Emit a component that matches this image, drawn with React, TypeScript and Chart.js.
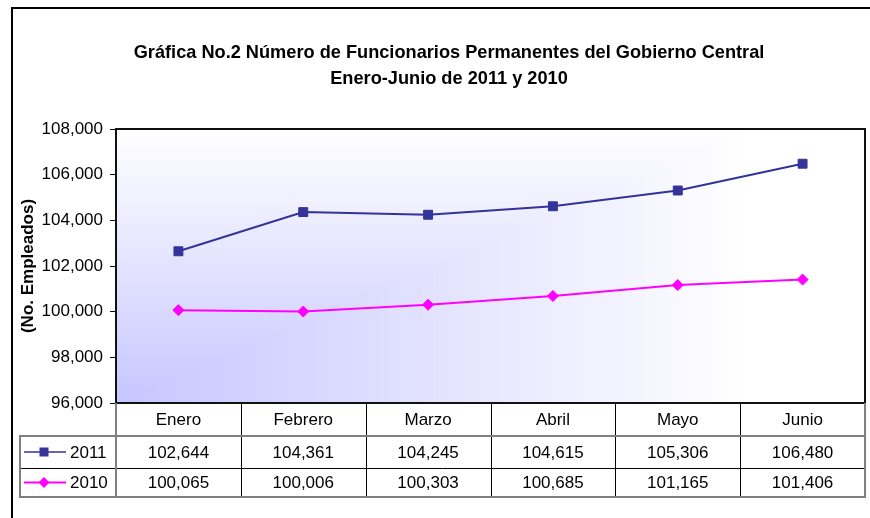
import React, { useEffect, useRef } from 'react';
import { Chart, registerables } from 'chart.js';

Chart.register(...registerables);

const categories = ['Enero', 'Febrero', 'Marzo', 'Abril', 'Mayo', 'Junio'];
const series2011 = [102644, 104361, 104245, 104615, 105306, 106480];
const series2010 = [100065, 100006, 100303, 100685, 101165, 101406];
const seriesLabels = ['2011', '2010'];
const seriesColors = ['#333399', '#ff00ff'];
const yMin = 96000;
const yMax = 108000;
const yStep = 2000;
const titleLines = [
  'Gráfica No.2 Número de Funcionarios Permanentes del Gobierno Central',
  'Enero-Junio de 2011 y 2010',
];
const yTitle = '(No. Empleados)';

const FONT = "'Liberation Sans', Arial, sans-serif";
const fmt = (v: number) => Number(v).toLocaleString('en-US');

const decor = {
  id: 'decor',
  beforeDraw(chart: any) {
    const { ctx, chartArea: a, width, height } = chart;
    ctx.save();
    ctx.fillStyle = '#ffffff';
    ctx.fillRect(0, 0, width, height);
    // "from corner" gradient in plot area
    const W = a.right - a.left;
    const H = a.bottom - a.top;
    const gx = 0.85 * W;
    const N = 140;
    for (let i = N; i >= 1; i--) {
      const t = (i / N) * 1.2;
      const tc = Math.min(1, t);
      const c = Math.round(198 + 57 * tc);
      ctx.fillStyle = `rgb(${c},${c},255)`;
      const w = Math.min(W, gx * t);
      const h = Math.min(H, H * t);
      ctx.fillRect(a.left, a.bottom - h, w, h);
    }
    // outer border
    ctx.strokeStyle = '#000';
    ctx.lineWidth = 2;
    ctx.strokeRect(12, 8, 900, 600);
    ctx.restore();
  },
  afterDraw(chart: any) {
    const { ctx, chartArea: a } = chart;
    const xs = chart.scales.x;
    const W = a.right - a.left;
    const colW = W / categories.length;
    ctx.save();
    // plot border
    ctx.strokeStyle = '#111';
    ctx.lineWidth = 2;
    ctx.strokeRect(a.left, a.top, W, a.bottom - a.top);

    // title
    ctx.fillStyle = '#000';
    ctx.font = `bold 18.2px ${FONT}`;
    ctx.textAlign = 'center';
    ctx.textBaseline = 'middle';
    ctx.fillText(titleLines[0], 449, 53);
    ctx.fillText(titleLines[1], 449, 79);

    // data table
    const y0 = a.bottom;
    const y1 = y0 + 33;
    const y2 = y1 + 32;
    const y3 = y2 + 29;
    const lx = 20;

    ctx.strokeStyle = '#000';
    ctx.lineWidth = 1;
    ctx.beginPath();
    for (let k = 1; k < categories.length; k++) {
      const x = Math.round(a.left + k * colW) + 0.5;
      ctx.moveTo(x, y0);
      ctx.lineTo(x, y3);
    }
    ctx.moveTo(lx, y2 + 0.5);
    ctx.lineTo(a.right, y2 + 0.5);
    ctx.stroke();

    ctx.strokeStyle = '#808080';
    ctx.lineWidth = 2;
    ctx.beginPath();
    ctx.moveTo(a.left, y0);
    ctx.lineTo(a.left, y3);
    ctx.moveTo(a.right, y0);
    ctx.lineTo(a.right, y3);
    ctx.moveTo(lx, y1);
    ctx.lineTo(a.right, y1);
    ctx.moveTo(lx, y3);
    ctx.lineTo(a.right + 1, y3);
    ctx.moveTo(lx, y1 - 1);
    ctx.lineTo(lx, y3 + 1);
    ctx.stroke();

    ctx.fillStyle = '#000';
    ctx.font = `17px ${FONT}`;
    ctx.textAlign = 'center';
    ctx.textBaseline = 'middle';
    const rows = [series2011, series2010];
    categories.forEach((c, i) => {
      const x = xs.getPixelForValue(i);
      ctx.fillText(c, x, (y0 + y1) / 2 + 1);
      ctx.fillText(fmt(rows[0][i]), x, (y1 + y2) / 2 + 1);
      ctx.fillText(fmt(rows[1][i]), x, (y2 + y3) / 2 + 1);
    });

    // legend keys
    const rowYs = [(y1 + y2) / 2, (y2 + y3) / 2];
    rowYs.forEach((ry, r) => {
      ctx.strokeStyle = seriesColors[r];
      ctx.fillStyle = seriesColors[r];
      ctx.lineWidth = r === 0 ? 1.5 : 2;
      ctx.beginPath();
      ctx.moveTo(24, ry);
      ctx.lineTo(66, ry);
      ctx.stroke();
      const cx = 44;
      ctx.beginPath();
      if (r === 0) {
        ctx.rect(cx - 4.5, ry - 4.5, 9, 9);
      } else {
        ctx.moveTo(cx, ry - 5.5);
        ctx.lineTo(cx + 5.5, ry);
        ctx.lineTo(cx, ry + 5.5);
        ctx.lineTo(cx - 5.5, ry);
        ctx.closePath();
      }
      ctx.fill();
      ctx.fillStyle = '#000';
      ctx.textAlign = 'left';
      ctx.fillText(seriesLabels[r], 70, ry + 1);
    });
    ctx.restore();
  },
};

export default function App() {
  const ref = useRef<HTMLCanvasElement | null>(null);
  useEffect(() => {
    if (!ref.current) return;
    const chart = new Chart(ref.current, {
      type: 'line',
      data: {
        labels: categories,
        datasets: [
          {
            label: seriesLabels[0],
            data: series2011,
            borderColor: seriesColors[0],
            backgroundColor: seriesColors[0],
            borderWidth: 2,
            pointStyle: 'rect',
            pointRadius: 6.3,
            pointBorderWidth: 1,
            tension: 0,
          },
          {
            label: seriesLabels[1],
            data: series2010,
            borderColor: seriesColors[1],
            backgroundColor: seriesColors[1],
            borderWidth: 2,
            pointStyle: 'rectRot',
            pointRadius: 5.5,
            pointBorderWidth: 1,
            tension: 0,
          },
        ],
      },
      options: {
        responsive: false,
        animation: false,
        layout: { autoPadding: false, padding: { left: 12, top: 129, right: 5, bottom: 115 } },
        plugins: {
          legend: { display: false },
          tooltip: { enabled: false },
          title: { display: false },
        },
        scales: {
          x: { type: 'category', display: false, offset: true },
          y: {
            min: yMin,
            max: yMax,
            ticks: {
              stepSize: yStep,
              callback: (v: any) => fmt(v),
              font: { family: FONT, size: 17 },
              color: '#000',
              padding: 7,
            },
            grid: { drawOnChartArea: false, tickLength: 6, color: '#000' },
            border: { display: false },
            title: {
              display: true,
              text: yTitle,
              color: '#000',
              font: { family: FONT, size: 17, weight: 'bold' },
              padding: { top: 6, bottom: 0 },
            },
            afterFit: (s: any) => {
              s.width = 104;
            },
          },
        },
      },
      plugins: [decor],
    } as any);
    return () => chart.destroy();
  }, []);
  return (
    <div style={{ position: 'fixed', left: 0, top: 0 }}>
      <canvas ref={ref} width={870} height={518} style={{ display: 'block' }} />
    </div>
  );
}
